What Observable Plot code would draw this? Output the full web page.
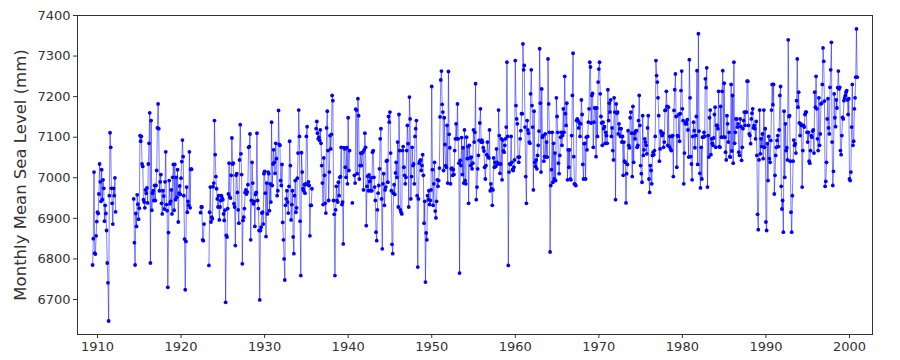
<!DOCTYPE html>
<html>
<head>
<meta charset="utf-8">
<script src="https://cdn.jsdelivr.net/npm/d3@7"></script>
<script src="https://cdn.jsdelivr.net/npm/@observablehq/plot@0.6"></script>
<style>
  html, body { margin: 0; padding: 0; background: #ffffff; }
  #chart { width: 900px; height: 360px; }
</style>
</head>
<body>
<div id="chart"></div>
<script>
const _ = null;
const yLabel = "Monthly Mean Sea Level (mm)";
const xTicks = [1910, 1920, 1930, 1940, 1950, 1960, 1970, 1980, 1990, 2000];
const yTicks = [6700, 6800, 6900, 7000, 7100, 7200, 7300, 7400];

// monthly mean sea level (mm), one row per year, Jan..Dec; null = missing month
const level1909 = [_,_,_,_,_,6785,6850,7014,6814,6812,6857,6892];
const level1910s = [
  6915,6912,6960,7034,6990,6942,7020,6946,6995,6974,6893,6932,
  6912,6870,6790,6741,6647,6956,7111,7075,6974,6937,6886,6974,
  6956,7000,6916,_,_,_,_,_,_,_,_,_,
  _,_,_,_,_,_,_,_,_,_,_,_,
  _,_,_,_,6948,6840,6785,6912,6880,6958,6935,6898,
  6925,7104,7090,7102,7034,7028,6946,6940,6926,6970,6962,6975,
  6938,7034,7085,7160,6790,7141,6920,6962,6968,6944,6981,6944,
  6981,7018,7123,7182,7121,6968,6990,7008,6937,6911,6968,6955,
  6923,6990,7064,6934,6919,6730,6865,6993,6936,6942,6970,6911,
  7001,7033,6920,7033,6946,7001,6952,7020,6891,6962,6980,6959
];
const level1920s = [
  6999,7040,7093,7052,6956,6849,6724,6843,6977,6915,6942,6932,
  7064,6926,7021,7021,_,_,_,_,_,_,_,_,
  _,_,_,_,6914,6928,6928,6847,6845,6886,_,_,
  _,_,_,_,6784,6915,6977,6891,6903,6899,6978,6987,
  7141,7057,7003,6973,6948,6928,6956,6896,6928,6944,6956,6950,
  6946,6911,6895,6920,6693,6858,6854,6924,6960,7036,6952,6950,
  7006,7098,7034,7036,6936,6928,6833,7006,7010,6964,6921,6888,
  7044,7131,7059,7008,6788,6895,6903,6924,6964,6970,6960,6965,
  6983,7075,7077,7108,6847,6944,7038,6987,6936,6942,6880,6959,
  6964,7110,6944,6924,6870,6699,6870,6878,6913,6915,6886,7010
];
const level1930s = [
  7016,6962,6855,6987,6911,7014,7010,6919,6985,6940,7137,6981,
  7034,7069,7038,7011,7085,7047,6956,6968,7166,7082,7080,6993,
  6981,7033,6890,6847,6800,6748,6932,6948,6968,6940,6913,6979,
  7090,7030,6896,6934,6968,6854,6813,6956,6993,6915,6926,6999,
  7061,7167,7102,6893,6759,7062,7014,6973,6968,6983,6962,6985,
  7102,7126,6983,6990,6981,6857,6932,6932,6973,_,_,_,
  _,_,7121,7139,7110,7096,7100,7092,7118,7085,7030,6987,
  6934,7049,7006,6937,6913,7123,7164,7067,6944,7014,7104,7071,
  7107,7203,7190,6944,6910,6759,6921,6979,6944,6940,6989,6956,
  7001,7003,7075,6934,6940,6837,7074,7071,7026,7001,7074,6985
];
const level1940s = [
  7148,7018,7067,_,_,_,6938,_,_,7006,6987,7169,
  7167,7010,7195,7153,6997,7030,7061,7030,7061,7063,6970,7069,
  7110,7075,6882,6979,7004,6968,7007,6991,6968,7000,6968,7063,
  7067,7001,6977,6944,6866,6845,6921,6962,6981,7022,7096,7121,
  6948,6825,6985,7010,6932,6970,6977,7041,7043,6989,7151,7137,
  7162,7061,6968,6836,6813,6962,6983,6959,7012,7038,7001,7088,
  6928,7156,7067,6921,6915,6911,7067,7077,7026,7006,6985,7001,
  7067,7129,7084,6928,7199,7145,6948,7003,7075,7030,7034,6985,
  7102,7121,7141,6956,6780,6948,7036,7041,7044,7018,7030,7057,
  7006,6888,6942,6743,6864,6847,6956,6946,6968,6934,6944,6970
];
const level1950s = [
  7225,7020,6932,6985,7038,6918,6901,6942,6995,6979,6993,7024,
  7150,7241,7263,7181,7162,7018,7148,7082,7030,7026,7129,6987,
  7262,7107,7074,6985,7022,7024,7006,7020,7008,7067,7096,7133,
  7096,7182,7096,7036,6765,7043,7030,7099,7008,7074,6987,7118,
  6993,6985,7100,7047,7077,6937,7080,7049,7030,7051,7022,7036,
  7118,7088,7112,7232,6946,6977,7022,7055,7092,7135,7170,7088,
  7093,7088,7074,7066,7026,6997,7030,7057,7088,7052,7049,7118,
  6968,6985,6973,6932,6970,7049,7026,7038,7028,7071,7038,7034,
  7167,7104,7011,7034,7096,6995,7093,7066,7063,7080,7096,7125,
  7285,7102,6784,7014,7034,7033,7102,7038,7020,7018,7026,7044
];
const level1960s = [
  7289,7178,7145,7133,7051,7038,7051,7096,7116,7158,7158,7330,
  7266,7277,7125,7003,6937,7141,7118,7110,7088,7085,7207,7266,
  7178,7125,6970,7164,7038,7028,7044,7022,7055,7080,7115,7318,
  7184,7014,7219,7100,7104,7041,7052,7108,7051,7088,7051,7293,
  7182,7112,6817,6981,7020,7112,6989,7085,6997,7061,6993,7197,
  7151,7112,7036,7010,7055,7100,7112,7080,7104,7170,7112,7250,
  7158,7129,7184,6995,7069,7026,7069,6997,6995,7104,7203,7307,
  7052,6985,6983,6981,7141,7145,7141,7123,7135,7102,7133,7192,
  7156,7033,6997,7084,7085,6997,7100,7069,7102,7137,7170,7285,
  7273,7135,7203,7208,7075,7137,7172,7172,7052,7172,7102,7236
];
const level1970s = [
  7268,7285,7207,7151,7135,7080,7137,7121,7126,7085,7112,7104,
  7085,7217,7141,7184,7162,7192,7102,7123,7067,7044,7197,7162,
  6946,7182,7159,7162,7108,7133,7121,7102,7121,7088,7102,7006,
  7088,7041,7038,6938,7010,7033,7116,7080,7074,7148,7162,7110,
  7003,7176,7038,7110,7096,7115,7116,7075,7080,7141,7203,7129,
  7030,7010,6989,7153,7055,7069,7096,7088,7080,7059,7123,7153,
  6997,6964,7030,7018,6985,7055,7063,7057,7067,7102,7289,7252,
  7236,7197,7153,7041,7071,7115,7110,7104,7110,7075,7088,7166,
  7167,7213,7176,7080,7174,7077,7102,7071,7067,7102,7104,7003,
  7166,7217,7256,7151,7026,7104,7102,7156,7090,7158,7215,7263
];
const level1980s = [
  7170,7141,6985,7061,7133,7137,7133,7143,7118,7051,7291,7197,
  7052,7034,6995,7102,7137,7116,7074,7104,7151,7264,7033,7355,
  7115,7011,6975,7075,6997,7100,7100,7112,7102,7244,7222,7271,
  6977,7104,7051,7148,7167,7057,7096,7085,7080,7098,7156,7174,
  7075,7129,7129,7121,7213,7077,7075,7176,7100,7213,7264,7100,
  7233,7100,7063,7044,7153,7133,7088,7112,7052,7051,7230,7066,
  7203,7036,7285,7085,7112,7145,7145,7125,7133,7063,7055,7145,
  7126,7043,7075,7121,7141,7162,7129,7162,7162,7238,7238,7129,
  7108,7104,7084,7145,7159,7170,7123,7129,7121,7096,7139,7055,
  6910,6872,7044,7167,7059,7096,7077,7108,7047,7167,7075,7121
];
const level1990s = [
  6891,6870,7084,6993,7102,7047,7038,7092,7167,7230,7180,7230,
  6960,7006,7055,7075,7092,7104,7077,7118,7203,7225,6979,6923,
  6944,6866,7164,7001,7133,7067,7074,7044,7340,7151,7153,7041,
  6915,6866,6956,7041,7093,7080,7084,7061,7190,7293,7174,7211,
  7135,7104,7133,7129,6977,7067,7129,7125,7156,7162,7162,7112,
  7088,7112,7041,7036,7067,7104,7100,7115,7118,7061,7211,7174,
  7250,7170,7096,7067,7197,7080,7108,7182,7184,7230,7320,7287,
  7189,6979,6991,7038,7145,7195,7123,7108,7223,7266,7334,7088,
  6981,7016,7207,7148,7126,7192,7172,7222,7263,7219,7223,7067,
  7057,7104,7149,7145,7190,7197,7203,7211,7215,7192,7156,7195
];
const level2000 = [6997,6993,7014,7125,7230,7080,7090,7170,7197,7248,7367,7248];

const blockStarts = [1909, 1910, 1920, 1930, 1940, 1950, 1960, 1970, 1980, 1990, 2000];
const blockValues = [level1909, level1910s, level1920s, level1930s, level1940s,
  level1950s, level1960s, level1970s, level1980s, level1990s, level2000];

const records = blockValues.flatMap((vals, b) =>
  vals.map((v, i) => ({ t: blockStarts[b] + i / 12, v })));
const present = records.filter(d => d.v != null);

const chart = Plot.plot({
  width: 900,
  height: 360,
  marginLeft: 77,
  marginRight: 28,
  marginTop: 15,
  marginBottom: 26,
  style: { fontFamily: "'DejaVu Sans', sans-serif", fontSize: "13px", color: "#333", background: "#ffffff" },
  x: { domain: [1907.606, 2002.753], label: null },
  y: { domain: [6613.7, 7400], label: null },
  marks: [
    Plot.line(records, { x: "t", y: "v", stroke: "#0000ff", strokeOpacity: 0.5, strokeWidth: 1 }),
    Plot.dot(present, { x: "t", y: "v", r: 1.9, fill: "#0000ff", stroke: "none" }),
    Plot.frame({ stroke: "#333", strokeWidth: 1 }),
    Plot.axisX({ ticks: xTicks, tickFormat: d => String(d), tickSize: 4, tickPadding: 3, fontSize: 13, label: null }),
    Plot.axisY({ ticks: yTicks, tickFormat: d => String(d), tickSize: 4, tickPadding: 3, fontSize: 13, label: null }),
    Plot.text([yLabel], { text: d => d, frameAnchor: "left", textAnchor: "middle", lineAnchor: "middle", rotate: -90, dx: -57, fontSize: 16.5, fill: "#333" })
  ]
});
document.getElementById("chart").appendChild(chart);
</script>
</body>
</html>
